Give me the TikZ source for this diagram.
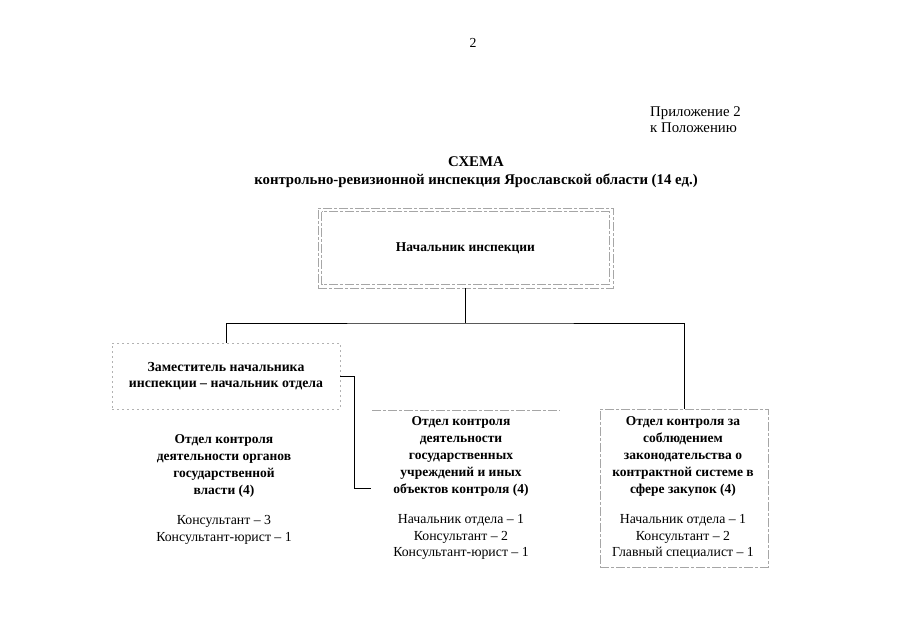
\documentclass[tikz,border=0pt]{standalone}
\usepackage{fontspec}
\setmainfont{Liberation Serif}
\begin{document}
\begin{tikzpicture}[x=1pt,y=-1pt,
  frame/.style={draw=black!35, line width=0.6pt, dash pattern=on 9pt off 2pt on 3pt off 2pt},
  dotframe/.style={draw=black!30, line width=0.6pt, dash pattern=on 2pt off 3pt},
  conn/.style={draw=black, line width=0.8pt},
  bt/.style={font=\bfseries\fontsize{13.5}{17}\selectfont, align=center, inner sep=0pt},
  rt/.style={font=\fontsize{13.8}{16.5}\selectfont, align=center, inner sep=0pt}]
\useasboundingbox (0,0) rectangle (905,640);
\fill[white] (0,0) rectangle (905,640);

\node[rt] (pg) at (473,43) {2};
\node[rt, align=left, anchor=west, font=\fontsize{14.8}{16}\selectfont] (app) at (650,120) {Приложение 2\\к Положению};
\node[bt, font=\bfseries\fontsize{14.8}{18}\selectfont] (title) at (476,172) {СХЕМА\\контрольно-ревизионной инспекция Ярославской области (14 ед.)};

% boss
\node[bt, frame, minimum width=295, minimum height=80] (boss) at (465.5,248) {Начальник инспекции};
\draw[frame] ([shift={(4,4)}]boss.north west) rectangle ([shift={(-4,-4)}]boss.south east);

% deputy
\node[bt, dotframe, minimum width=228, minimum height=66, font=\bfseries\fontsize{13.8}{15.5}\selectfont] (dep) at (226,376) {Заместитель начальника\\инспекции – начальник отдела};

% columns
\node[bt] (lh) at (224,466) {Отдел контроля\\деятельности органов\\государственной\\власти (4)};
\node[rt] (ls) at (224,530) {Консультант – 3\\Консультант-юрист – 1};

\node[bt] (mh) at (461,456) {Отдел контроля\\деятельности\\государственных\\учреждений и иных\\объектов контроля (4)};
\node[rt] (ms) at (461,537) {Начальник отдела – 1\\Консультант – 2\\Консультант-юрист – 1};

\node[frame, minimum width=168, minimum height=158, inner sep=0pt] (rbox) at (684,488) {};
\node[bt] (rh) at (683,456) {Отдел контроля за\\соблюдением\\законодательства о\\контрактной системе в\\сфере закупок (4)};
\node[rt] (rs) at (683,537) {Начальник отдела – 1\\Консультант – 2\\Главный специалист – 1};

\draw[frame] (372,410) -- (560,410);

% connectors
\coordinate (j) at (465.5,323);
\coordinate (dk) at (354,0);
\coordinate (mc) at (371,488);
\draw[conn] (boss.south) -- (j);
\draw[conn] (dep.north) |- (j) -| (rbox.north);
\draw[conn] (dep.east) -- (dep.east -| dk) |- (mc);
\end{tikzpicture}
\end{document}
